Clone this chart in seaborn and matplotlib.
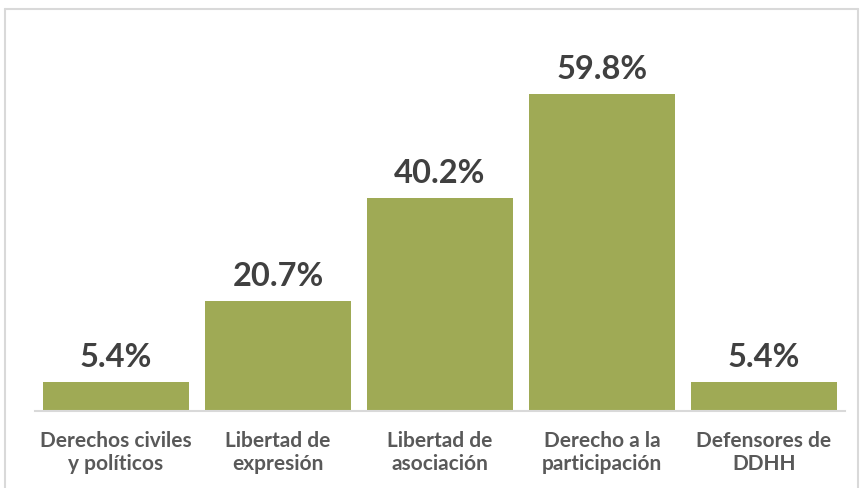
import matplotlib
matplotlib.use("Agg")
import matplotlib.pyplot as plt
from matplotlib.lines import Line2D
import seaborn as sns
import pandas as pd

categorias = ["Derechos civiles\ny políticos", "Libertad de\nexpresión",
              "Libertad de\nasociación", "Derecho a la\nparticipación",
              "Defensores de\nDDHH"]
porcentajes = [5.4, 20.7, 40.2, 59.8, 5.4]

sns.set_style("white")
plt.rcParams['font.family'] = ['Lato', 'DejaVu Sans']

df = pd.DataFrame({"cat": categorias, "pct": porcentajes})

fig = plt.figure(figsize=(8.62, 4.89), dpi=100)
ax = fig.add_axes([35 / 862, 77 / 489, 810 / 862, 371 / 489])

sns.barplot(data=df, x="cat", y="pct", color="#9faa55", saturation=1,
            width=0.907, linewidth=0, ax=ax)
ax.bar_label(ax.containers[0], labels=[f"{v:.1f}%" for v in porcentajes],
             padding=8, fontsize=23.5, fontweight="bold", color="#404040")

ax.set_xlim(-0.5, 4.5)
ax.set_ylim(0, 70)
ax.set_xlabel("")
ax.set_ylabel("")
ax.set_yticks([])
ax.tick_params(axis="x", length=0, pad=14)
for lbl in ax.get_xticklabels():
    lbl.set_fontsize(15)
    lbl.set_fontweight("bold")
    lbl.set_color("#595959")
    lbl.set_linespacing(1.15)
for s in ["top", "right", "left"]:
    ax.spines[s].set_visible(False)
ax.spines["bottom"].set_color("#d9d9d9")
ax.spines["bottom"].set_linewidth(1.5)

# marco gris del gráfico
x0, x1, yt = 5 / 862, 858 / 862, 1 - 10 / 489
borde = dict(color="#d9d9d9", lw=1.5, transform=fig.transFigure)
fig.add_artist(Line2D([x0, x1], [yt, yt], **borde))
fig.add_artist(Line2D([x0, x0], [0, yt], **borde))
fig.add_artist(Line2D([x1, x1], [0, yt], **borde))

fig.savefig("out.png", dpi=100)
